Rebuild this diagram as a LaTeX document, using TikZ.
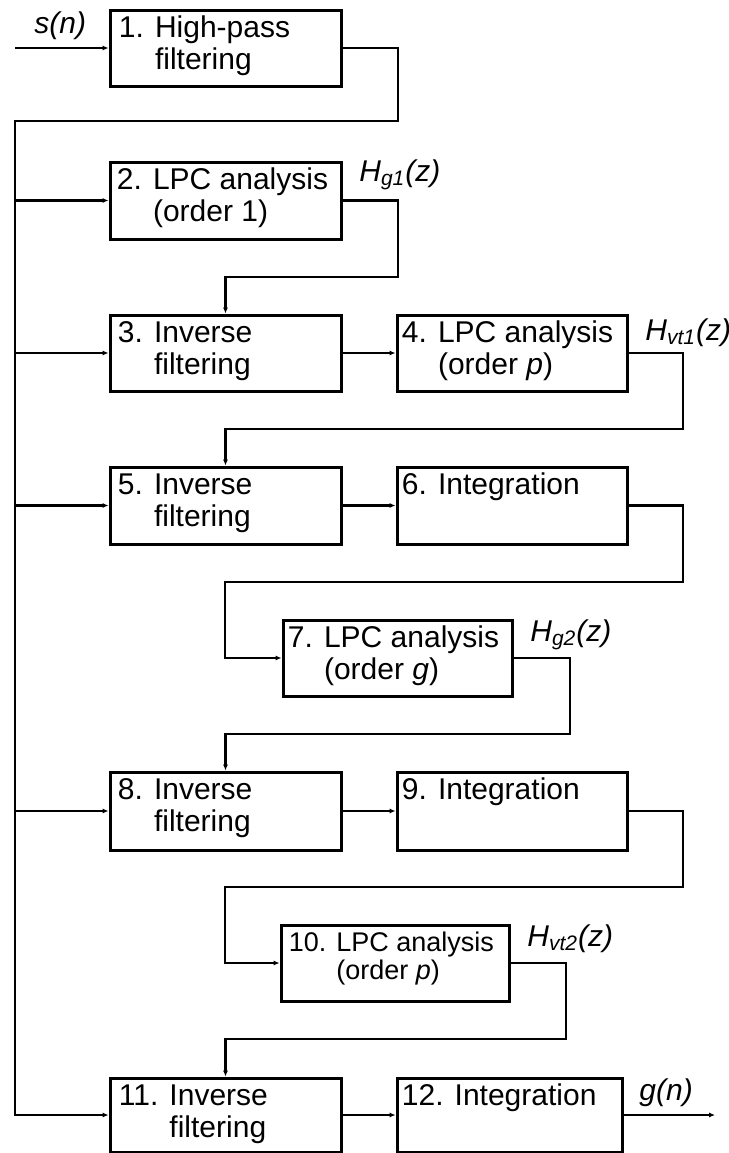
\documentclass[tikz,border=0pt]{standalone}
\usepackage{fontspec}
\setmainfont{Liberation Sans}
\usetikzlibrary{arrows.meta,fit}
\begin{document}
\begin{tikzpicture}[x=0.5pt,y=-0.5pt,
  blk/.style={draw, line width=1.5pt, inner sep=0pt, rectangle},
  txt/.style={anchor=base west, inner sep=0pt, font=\fontsize{15pt}{16pt}\selectfont},
  smalltxt/.style={anchor=base west, inner sep=0pt, font=\fontsize{13.5pt}{14pt}\selectfont},
  sig/.style={anchor=base west, inner sep=0pt, font=\fontsize{15pt}{16pt}\selectfont\itshape},
  wire/.style={line width=1.3pt},
  arr/.style={wire, -{Latex[length=3pt,width=2.6pt]}}]
\useasboundingbox (0,0) rectangle (729,1153);

% processing blocks
\node[blk, fit={(110,10)(341,86)}]    (b1)  {};
\node[blk, fit={(110,162)(341,239)}]  (b2)  {};
\node[blk, fit={(110,315)(341,391)}]  (b3)  {};
\node[blk, fit={(397,315)(627,391)}]  (b4)  {};
\node[blk, fit={(110,467)(341,544)}]  (b5)  {};
\node[blk, fit={(397,467)(627,544)}]  (b6)  {};
\node[blk, fit={(283,620)(512,696)}]  (b7)  {};
\node[blk, fit={(110,772)(341,850)}]  (b8)  {};
\node[blk, fit={(397,772)(627,850)}]  (b9)  {};
\node[blk, fit={(281,925)(509,1001)}] (b10) {};
\node[blk, fit={(110,1078)(341,1152)}](b11) {};
\node[blk, fit={(397,1078)(622,1152)}](b12) {};

% block captions
\newcommand{\twoline}[3]{\begin{tabular}[t]{@{}l@{ }l@{}}#1 & #2\\ & #3\end{tabular}}
\node[txt] (t1) at ([xshift=5pt,yshift=-14.5pt]b1.north west) {\twoline{1.}{High-pass}{filtering}};
\node[txt] (t2) at ([xshift=4pt,yshift=-14.5pt]b2.north west) {\twoline{2.}{LPC analysis}{(order 1)}};
\node[txt] (t3) at ([xshift=4.5pt,yshift=-14.5pt]b3.north west) {\twoline{3.}{Inverse}{filtering}};
\node[txt] (t4) at ([xshift=3pt,yshift=-14.5pt]b4.north west) {\twoline{4.}{LPC analysis}{(order \textit{p})}};
\node[txt] (t5) at ([xshift=4.5pt,yshift=-14.5pt]b5.north west) {\twoline{5.}{Inverse}{filtering}};
\node[txt] (t6) at ([xshift=3pt,yshift=-14.5pt]b6.north west) {6. Integration};
\node[txt] (t7) at ([xshift=3pt,yshift=-14.5pt]b7.north west) {\twoline{7.}{LPC analysis}{(order \textit{g})}};
\node[txt] (t8) at ([xshift=4.5pt,yshift=-14.5pt]b8.north west) {\twoline{8.}{Inverse}{filtering}};
\node[txt] (t9) at ([xshift=3pt,yshift=-14.5pt]b9.north west) {9. Integration};
\node[smalltxt] (t10) at ([xshift=4.5pt,yshift=-14pt]b10.north west) {\twoline{10.}{LPC analysis}{(order \textit{p})}};
\node[txt] (t11) at ([xshift=5pt,yshift=-14.5pt]b11.north west) {\twoline{11.}{Inverse}{filtering}};
\node[txt] (t12) at ([xshift=3pt,yshift=-14.5pt]b12.north west) {12. Integration};

% signal labels
\node[sig] (ls)   at (34,33)    {s(n)};
\node[sig] (lg1)  at (359,181)  {H\textsubscript{g1}(z)};
\node[sig] (lvt1) at (645,340)  {H\textsubscript{vt1}(z)};
\node[sig] (lg2)  at (530,641)  {H\textsubscript{g2}(z)};
\node[sig] (lvt2) at (527,946)  {H\textsubscript{vt2}(z)};
\node[sig] (lgn)  at (639,1100) {g(n)};

% routing points
\coordinate (in)  at (15,48);
\coordinate (bus) at (15,121);
\coordinate (r1)  at (398,121);
\coordinate (r2)  at (398,277);
\coordinate (r4)  at (683,429);
\coordinate (r6)  at (683,582);
\coordinate (l6)  at (225,582);
\coordinate (r7)  at (570,734);
\coordinate (r9)  at (683,887);
\coordinate (l9)  at (225,887);
\coordinate (r10) at (566,1039);
\coordinate (out) at (715,1115);

% input and common bus feeding every inverse filter
\draw[arr] (in) -- (b1.west);
\draw[arr] (b1.east) -| (r1) -- (bus) |- (b11.west);
\draw[arr] (bus |- b2.west) -- (b2.west);
\draw[arr] (bus |- b3.west) -- (b3.west);
\draw[arr] (bus |- b5.west) -- (b5.west);
\draw[arr] (bus |- b8.west) -- (b8.west);

% chain of analysis and filtering stages
\draw[arr] (b2.east) -| (r2) -| (b3.north);
\draw[arr] (b3.east) -- (b4.west);
\draw[arr] (b4.east) -| (r4) -| (b5.north);
\draw[arr] (b5.east) -- (b6.west);
\draw[arr] (b6.east) -| (r6) -- (l6) |- (b7.west);
\draw[arr] (b7.east) -| (r7) -| (b8.north);
\draw[arr] (b8.east) -- (b9.west);
\draw[arr] (b9.east) -| (r9) -- (l9) |- (b10.west);
\draw[arr] (b10.east) -| (r10) -| (b11.north);
\draw[arr] (b11.east) -- (b12.west);
\draw[arr] (b12.east) -- (out);
\end{tikzpicture}
\end{document}
